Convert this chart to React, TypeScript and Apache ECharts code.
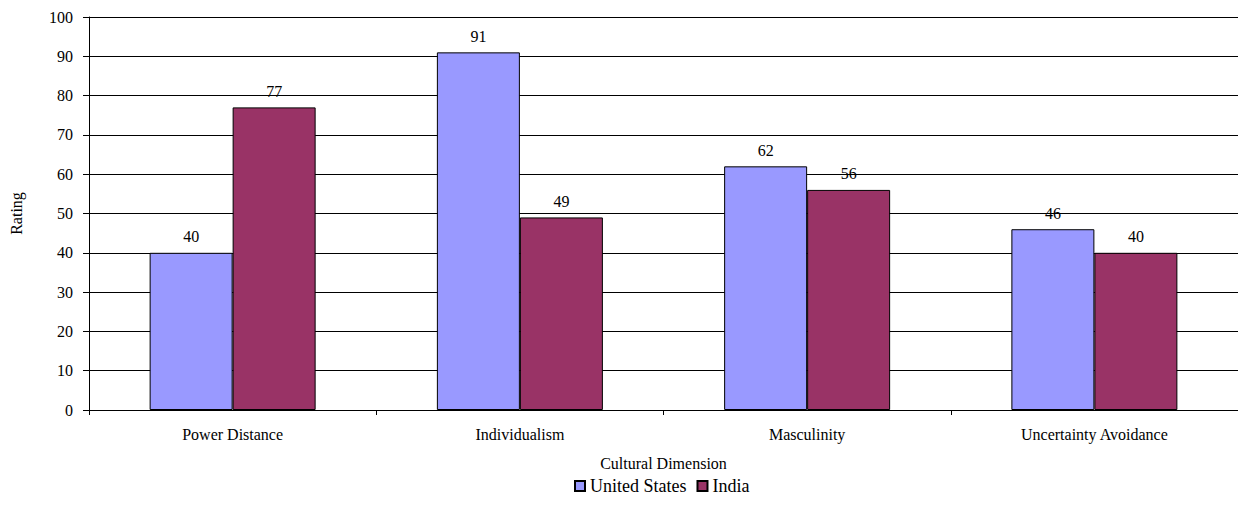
import React, { useEffect, useRef } from "react";
import * as echarts from "echarts";

const categories = ["Power Distance", "Individualism", "Masculinity", "Uncertainty Avoidance"];
const usValues = [40, 91, 62, 46];
const indiaValues = [77, 49, 56, 40];
const seriesNames = ["United States", "India"];

const FONT = "'Times New Roman', 'Liberation Serif', 'DejaVu Serif', serif";

export default function App() {
  const ref = useRef<HTMLDivElement>(null);
  useEffect(() => {
    if (!ref.current) return;
    const chart = echarts.init(ref.current, undefined, { renderer: "svg" });
    const label = {
      show: true,
      position: "top" as const,
      distance: 8,
      color: "#000",
      fontFamily: FONT,
      fontSize: 16,
    };
    chart.setOption({
      animation: false,
      textStyle: { fontFamily: FONT, color: "#000" },
      grid: { left: 89, top: 17, width: 1154, height: 393, containLabel: false },
      legend: {
        bottom: 8,
        left: 569,
        itemWidth: 10,
        itemHeight: 10,
        itemGap: 10,
        icon: "rect",
        textStyle: { fontFamily: FONT, fontSize: 18, color: "#000" },
        data: seriesNames,
      },
      xAxis: {
        type: "category",
        data: categories,
        name: "Cultural Dimension",
        nameLocation: "middle",
        nameGap: 45,
        nameTextStyle: { fontFamily: FONT, fontSize: 16, color: "#000" },
        axisLine: { lineStyle: { color: "#000", width: 1 } },
        axisTick: { show: true, length: 5, lineStyle: { color: "#000" } },
        axisLabel: { fontFamily: FONT, fontSize: 16, color: "#000", margin: 16 },
      },
      yAxis: {
        type: "value",
        min: 0,
        max: 100,
        interval: 10,
        name: "Rating",
        nameLocation: "middle",
        nameRotate: 90,
        nameGap: 65,
        nameTextStyle: { fontFamily: FONT, fontSize: 16, color: "#000" },
        axisLine: { show: true, lineStyle: { color: "#000", width: 1 } },
        axisTick: { show: true, length: 6, lineStyle: { color: "#000" } },
        axisLabel: { fontFamily: FONT, fontSize: 16, color: "#000", margin: 16 },
        splitLine: { show: true, lineStyle: { color: "#000", width: 1 } },
      },
      series: [
        {
          name: seriesNames[0],
          type: "bar",
          data: usValues,
          barWidth: 83,
          barGap: "0%",
          itemStyle: { color: "#9999FF", borderColor: "#000", borderWidth: 1 },
          label,
        },
        {
          name: seriesNames[1],
          type: "bar",
          data: indiaValues,
          barWidth: 83,
          barGap: "0%",
          itemStyle: { color: "#993366", borderColor: "#000", borderWidth: 1 },
          label,
        },
      ],
    });
    return () => chart.dispose();
  }, []);
  return (
    <div
      ref={ref}
      style={{ position: "absolute", left: 0, top: 0, width: 1238, height: 508, background: "#fff", fontFamily: FONT }}
    />
  );
}
